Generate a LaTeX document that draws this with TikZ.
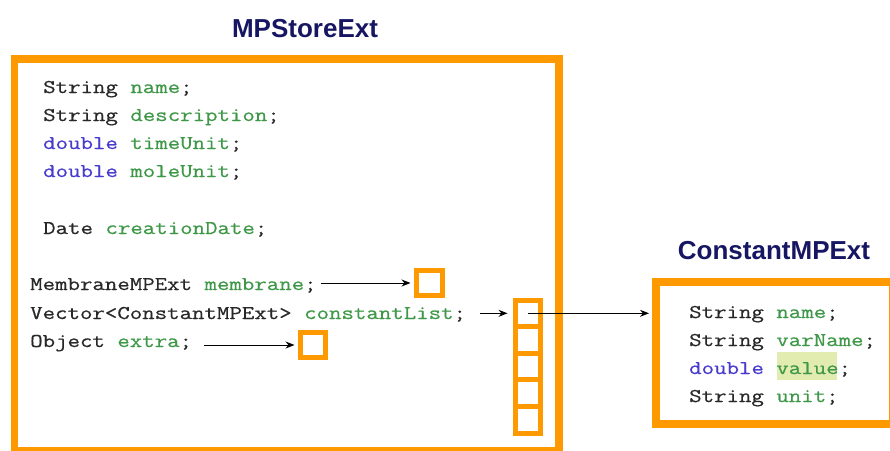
\documentclass[tikz,border=0pt]{standalone}
\usepackage{fontspec}
\setmainfont{Liberation Sans}
\newfontfamily\codefont[FakeStretch=1.24,FakeBold=0.6]{Latin Modern Mono}
\newfontfamily\titlefont{Liberation Sans}
\usetikzlibrary{arrows.meta}
\definecolor{orng}{RGB}{255,153,0}
\definecolor{navy}{RGB}{22,22,98}
\definecolor{kwgray}{RGB}{40,40,40}
\definecolor{fldgreen}{RGB}{62,152,72}
\definecolor{kwblue}{RGB}{72,60,205}
\definecolor{hilite}{RGB}{226,235,176}
\newcommand{\tk}[1]{\textcolor{kwgray}{#1}}
\newcommand{\tb}[1]{\textcolor{kwblue}{#1}}
\newcommand{\fd}[1]{\textcolor{fldgreen}{#1}}
\tikzset{
  code/.style={anchor=base west, inner sep=0pt, font=\codefont\fontsize{19.5}{24}\selectfont, text=kwgray},
  title/.style={anchor=base, inner sep=0pt, font=\titlefont\bfseries\fontsize{26}{30}\selectfont, text=navy},
  bigbox/.style={draw=orng, line width=7.5pt, inner sep=0pt, outer sep=0pt},
  cellbox/.style={draw=orng, line width=5pt, inner sep=0pt, outer sep=0pt, minimum width=25pt, minimum height=25pt},
  arr/.style={draw=black, line width=1pt, -{Stealth[length=9pt,width=7pt]}}
}
\begin{document}
\begin{tikzpicture}[x=1pt,y=-1pt]
\useasboundingbox (0,0) rectangle (890,450);
% boxes
\node[bigbox, minimum width=544.5pt, minimum height=392pt] (store) at (286.75,255) {};
\node[bigbox, line width=8pt, minimum width=237pt, minimum height=142pt] (cmp) at (774.5,353) {};
\node[cellbox, minimum width=26pt] (memb) at (429.5,283) {};
\node[cellbox] (extra) at (313,345) {};
\node[cellbox, minimum height=26.6pt] (c1) at (528,313.3) {};
\node[cellbox, minimum height=26.6pt] (c2) at (528,339.9) {};
\node[cellbox, minimum height=26.6pt] (c3) at (528,366.5) {};
\node[cellbox, minimum height=26.6pt] (c4) at (528,393.1) {};
\node[cellbox, minimum height=26.6pt] (c5) at (528,419.7) {};
% titles
\node[title] (t1) at (305,37) {MPStoreExt};
\node[title] (t2) at (774,259) {ConstantMPExt};
% highlight
\fill[hilite] (777,352) rectangle (837,380);
% code in MPStoreExt
\node[code] (s1) at (43,93) {\tk{String} \fd{name};};
\node[code] (s2) at (43,121) {\tk{String} \fd{description};};
\node[code] (s3) at (43,149) {\tb{double} \fd{timeUnit};};
\node[code] (s4) at (43,177) {\tb{double} \fd{moleUnit};};
\node[code] (s5) at (43,234) {\tk{Date} \fd{creationDate};};
\node[code] (s6) at (30,290) {\tk{MembraneMPExt} \fd{membrane};};
\node[code] (s7) at (30,319) {\tk{Vector<ConstantMPExt>} \fd{constantList};};
\node[code] (s8) at (30,347) {\tk{Object} \fd{extra};};
% code in ConstantMPExt
\node[code] (r1) at (689,318) {\tk{String} \fd{name};};
\node[code] (r2) at (689,346) {\tk{String} \fd{varName};};
\node[code] (r3) at (689,374) {\tb{double} \fd{value};};
\node[code] (r4) at (689,402) {\tk{String} \fd{unit};};
% connectors
\draw[arr, shorten <=4pt, shorten >=6pt] (s6.east |- memb.center) -- (memb.west);
\draw[arr, shorten <=14pt, shorten >=8pt] (s7.east |- c1.center) -- (c1.west);
\draw[arr, shorten <=12pt, shorten >=6pt] (s8.east |- extra.center) -- (extra.west);
\draw[arr, shorten >=7pt] (c1.center) -- (cmp.west |- c1.center);
\end{tikzpicture}
\end{document}
